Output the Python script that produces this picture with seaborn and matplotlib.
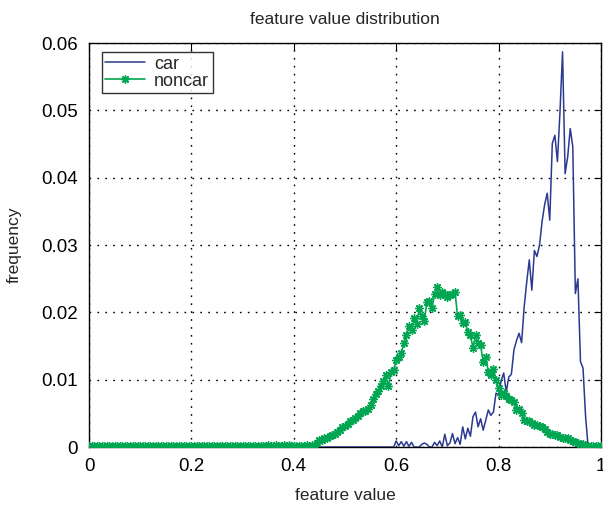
import numpy as np
import pandas as pd
import matplotlib
matplotlib.use("Agg")
import matplotlib.pyplot as plt
import seaborn as sns

# bin positions (0 .. 1, step 0.005)
feature_value = np.round(np.linspace(0.0, 1.0, 201), 3)

car = [
    # 0.000 - 0.595
    0, 0, 0, 0, 0, 0, 0, 0, 0, 0, 0, 0, 0, 0, 0, 0, 0, 0, 0, 0,
    0, 0, 0, 0, 0, 0, 0, 0, 0, 0, 0, 0, 0, 0, 0, 0, 0, 0, 0, 0,
    0, 0, 0, 0, 0, 0, 0, 0, 0, 0, 0, 0, 0, 0, 0, 0, 0, 0, 0, 0,
    0, 0, 0, 0, 0, 0, 0, 0, 0, 0, 0, 0, 0, 0, 0, 0, 0, 0, 0, 0,
    0, 0, 0, 0, 0, 0, 0, 0, 0, 0, 0, 0, 0, 0, 0, 0, 0, 0, 0, 0,
    0, 0, 0, 0, 0, 0, 0, 0, 0, 0, 0, 0, 0, 0, 0, 0, 0, 0, 0, 0,
    # 0.600 - 0.695
    0.0009, 0.0002, 0.0008, 0.0001, 0.0008, 0.0001, 0.0007, 0.0, 0.0, 0.0,
    0.0004, 0.0006, 0.0004, 0.0, 0.0, 0.0007, 0.0002, 0.0009, 0.0, 0.0019,
    # 0.700 - 0.795
    0.0002, 0.0006, 0.0020, 0.0005, 0.0014, 0.0004, 0.0030, 0.0012, 0.0028, 0.0016,
    0.0045, 0.0052, 0.0030, 0.0042, 0.0025, 0.0040, 0.0055, 0.0047, 0.0052, 0.0080,
    # 0.800 - 0.895
    0.0078, 0.0098, 0.0110, 0.0082, 0.0104, 0.0108, 0.0144, 0.0158, 0.0169, 0.0155,
    0.0208, 0.0245, 0.0278, 0.0233, 0.0292, 0.0283, 0.0300, 0.0335, 0.0360, 0.0377,
    # 0.900 - 0.995
    0.0337, 0.0451, 0.0463, 0.0424, 0.0498, 0.0587, 0.0406, 0.0431, 0.0473, 0.0446,
    0.0228, 0.0250, 0.0127, 0.0117, 0.0045, 0.0, 0.0, 0.0, 0.0, 0.0,
    # 1.000
    0.0,
]

noncar = [
    # 0.000 - 0.395
    0.0001, 0.0002, 0.0001, 0.0001, 0.0002, 0.0001, 0.0001, 0.0002, 0.0001, 0.0001,
    0.0002, 0.0001, 0.0001, 0.0001, 0.0002, 0.0001, 0.0001, 0.0002, 0.0001, 0.0001,
    0.0001, 0.0002, 0.0001, 0.0001, 0.0002, 0.0001, 0.0001, 0.0001, 0.0002, 0.0001,
    0.0001, 0.0002, 0.0001, 0.0001, 0.0001, 0.0002, 0.0001, 0.0002, 0.0001, 0.0001,
    0.0002, 0.0001, 0.0001, 0.0002, 0.0001, 0.0001, 0.0002, 0.0001, 0.0002, 0.0001,
    0.0001, 0.0002, 0.0001, 0.0002, 0.0001, 0.0002, 0.0001, 0.0002, 0.0002, 0.0001,
    0.0002, 0.0001, 0.0002, 0.0002, 0.0001, 0.0002, 0.0002, 0.0001, 0.0002, 0.0002,
    0.0003, 0.0002, 0.0002, 0.0003, 0.0002, 0.0002, 0.0003, 0.0002, 0.0003, 0.0002,
    # 0.400 - 0.495
    0.0002, 0.0002, 0.0001, 0.0002, 0.0002, 0.0003, 0.0002, 0.0003, 0.0001, 0.0006,
    0.0010, 0.0011, 0.0014, 0.0013, 0.0016, 0.0018, 0.0019, 0.0022, 0.0026, 0.0029,
    # 0.500 - 0.595
    0.0031, 0.0034, 0.0038, 0.0040, 0.0043, 0.0046, 0.0051, 0.0053, 0.0054, 0.0056,
    0.0063, 0.0071, 0.0079, 0.0083, 0.0090, 0.0098, 0.0107, 0.0090, 0.0112, 0.0114,
    # 0.600 - 0.695
    0.0129, 0.0133, 0.0140, 0.0154, 0.0166, 0.0180, 0.0174, 0.0191, 0.0182, 0.0206,
    0.0194, 0.0187, 0.0216, 0.0217, 0.0206, 0.0228, 0.0237, 0.0226, 0.0231, 0.0228,
    # 0.700 - 0.795
    0.0223, 0.0226, 0.0228, 0.0230, 0.0194, 0.0196, 0.0184, 0.0186, 0.0171, 0.0167,
    0.0147, 0.0166, 0.0154, 0.0151, 0.0126, 0.0134, 0.0112, 0.0107, 0.0116, 0.0100,
    # 0.800 - 0.895
    0.0087, 0.0077, 0.0080, 0.0076, 0.0072, 0.0070, 0.0067, 0.0055, 0.0056, 0.0050,
    0.0040, 0.0039, 0.0038, 0.0035, 0.0033, 0.0032, 0.0031, 0.0029, 0.0027, 0.0023,
    # 0.900 - 0.995
    0.0020, 0.0019, 0.0018, 0.0018, 0.0015, 0.0013, 0.0014, 0.0014, 0.0010, 0.0009,
    0.0007, 0.0006, 0.0005, 0.0004, 0.0002, 0.0001, 0.0001, 0.0001, 0.0001, 0.0001,
    # 1.000
    0.0001,
]

series_names = ["car", "noncar"]
x_ticks = [0, 0.2, 0.4, 0.6, 0.8, 1]
x_ticklabels = ["0", "0.2", "0.4", "0.6", "0.8", "1"]
y_ticks = [0, 0.01, 0.02, 0.03, 0.04, 0.05, 0.06]
y_ticklabels = ["0", "0.01", "0.02", "0.03", "0.04", "0.05", "0.06"]

df = pd.DataFrame({
    "feature value": np.concatenate([feature_value, feature_value]),
    "frequency": np.concatenate([car, noncar]),
    "class": [series_names[0]] * len(car) + [series_names[1]] * len(noncar),
})

sns.set_style("white")
plt.rcParams["font.family"] = ["Liberation Sans", "DejaVu Sans"]

fig = plt.figure(figsize=(6.03, 5.07), dpi=100)
ax = fig.add_axes([0.1476, 0.1183, 0.849, 0.7967])

colors = {"car": "#2b3990", "noncar": "#00a651"}
sns.lineplot(data=df[df["class"] == "car"], x="feature value", y="frequency",
             color=colors["car"], lw=1.1, ax=ax, label="car", zorder=3)
sns.lineplot(data=df[df["class"] == "noncar"], x="feature value", y="frequency",
             color=colors["noncar"], lw=1.2, marker=(8, 2, 0), markersize=6,
             markeredgewidth=1.0, markeredgecolor=colors["noncar"],
             ax=ax, label="noncar", zorder=4)

ax.set_xlim(0, 1)
ax.set_ylim(0, 0.06)
ax.set_xticks(x_ticks)
ax.set_xticklabels(x_ticklabels)
ax.set_yticks(y_ticks)
ax.set_yticklabels(y_ticklabels)
ax.tick_params(direction="in", length=5, width=0.8, labelsize=13.5,
               top=True, right=True, colors="black", pad=8)
ax.grid(True, color="black", linestyle=(0, (1.2, 4.5)), linewidth=1.0)
for s in ax.spines.values():
    s.set_color("black")
    s.set_linewidth(1.0)

ax.set_title("feature value distribution", fontsize=12.5, pad=14)
ax.set_xlabel("feature value", fontsize=12.5, labelpad=9)
ax.set_ylabel("frequency", fontsize=12.5, labelpad=14)

leg = ax.legend(loc="upper left", bbox_to_anchor=(0.025, 0.978), fontsize=13,
                frameon=True, fancybox=False, edgecolor="black",
                handlelength=2.2, borderpad=0.2, labelspacing=0.0,
                handletextpad=0.5, borderaxespad=0.0)
leg.get_frame().set_linewidth(1.0)

fig.savefig("out.png", dpi=100)
